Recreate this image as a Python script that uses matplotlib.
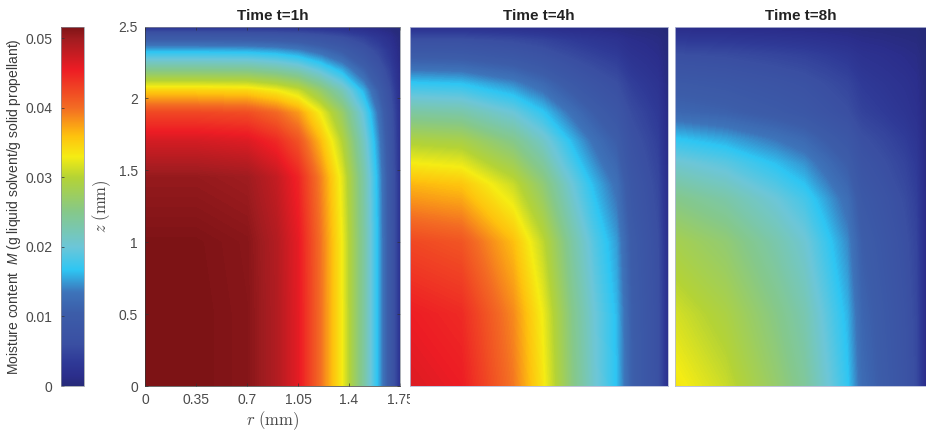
import matplotlib
matplotlib.use('Agg')
import matplotlib.pyplot as plt
import numpy as np
from matplotlib.colors import LinearSegmentedColormap, Normalize
from matplotlib.cm import ScalarMappable
from matplotlib.transforms import Bbox

plt.rcParams['font.family'] = ['Liberation Sans', 'DejaVu Sans']
plt.rcParams['mathtext.fontset'] = 'cm'
plt.rcParams['mathtext.it'] = 'Liberation Sans:italic'

W, H = 926, 434
vmax = 0.0517

titles = ['Time t=1h', 'Time t=4h', 'Time t=8h']
r_ticks = [0, 0.35, 0.7, 1.05, 1.4, 1.75]
r_tick_labels = ['0', '0.35', '0.7', '1.05', '1.4', '1.75']
z_ticks = [0, 0.5, 1, 1.5, 2, 2.5]
z_tick_labels = ['0', '0.5', '1', '1.5', '2', '2.5']
cbar_ticks = [0, 0.01, 0.02, 0.03, 0.04, 0.05]
cbar_tick_labels = ['0', '0.01', '0.02', '0.03', '0.04', '0.05']

# colour stops
cmap_values = [0, 0.0015, 0.0035, 0.006, 0.0105, 0.0135, 0.0167, 0.02, 0.025, 0.03,
               0.033, 0.036, 0.04, 0.0455, 0.05, vmax]
cmap_colors = ['#262a78', '#2b2e8c', '#2f3a97', '#3a4fa2', '#3c5da9', '#3d74ba', '#2ec6f3',
               '#6cc6d8', '#85c88a', '#b4d335', '#f5ec13', '#fec10e', '#f36c23', '#ed1c24',
               '#a01c20', '#7c1315']

r1 = [0, 0.35, 0.7, 0.9, 1.05, 1.2, 1.35, 1.5, 1.6, 1.68, 1.75]
z1 = [0, 0.5, 1, 1.45, 1.7, 1.9, 2.05, 2.2, 2.33, 2.42, 2.5]
m1 = [
    [.0517, .0517, .0512, .0490, .0460, .0400, .0330, .0235, .0160, .0090, .0020],
    [.0517, .0517, .0512, .0490, .0460, .0400, .0330, .0235, .0160, .0090, .0020],
    [.0516, .0516, .0511, .0489, .0459, .0399, .0329, .0235, .0160, .0090, .0020],
    [.0505, .0505, .0500, .0479, .0449, .0391, .0322, .0230, .0156, .0088, .0020],
    [.0470, .0470, .0465, .0446, .0418, .0364, .0300, .0214, .0145, .0082, .0018],
    [.0425, .0425, .0421, .0403, .0378, .0329, .0271, .0193, .0131, .0074, .0017],
    [.0350, .0350, .0347, .0332, .0312, .0271, .0223, .0159, .0108, .0061, .0014],
    [.0245, .0245, .0243, .0232, .0218, .0190, .0156, .0111, .0076, .0043, .0010],
    [.0160, .0160, .0158, .0152, .0142, .0124, .0102, .0073, .0049, .0028, .0006],
    [.0095, .0095, .0094, .0090, .0085, .0074, .0061, .0043, .0029, .0017, .0004],
    [.0020, .0020, .0020, .0019, .0018, .0015, .0013, .0009, .0006, .0003, .0001],
]

r2 = [0, 0.35, 0.7, 0.9, 1.1, 1.25, 1.4, 1.5, 1.6, 1.68, 1.75]
z2 = [0, 0.5, 1, 1.4, 1.7, 1.9, 2.1, 2.25, 2.4, 2.5]
m2 = [
    [.0465, .0455, .0395, .0335, .0255, .0205, .0165, .0110, .0085, .0065, .0015],
    [.0455, .0445, .0386, .0328, .0249, .0201, .0162, .0108, .0083, .0064, .0015],
    [.0425, .0416, .0361, .0306, .0233, .0187, .0151, .0101, .0078, .0060, .0014],
    [.0365, .0357, .0310, .0263, .0200, .0161, .0130, .0087, .0067, .0051, .0012],
    [.0295, .0289, .0250, .0212, .0162, .0130, .0105, .0070, .0054, .0041, .0009],
    [.0235, .0230, .0200, .0169, .0129, .0104, .0083, .0056, .0043, .0033, .0008],
    [.0170, .0166, .0144, .0122, .0093, .0075, .0060, .0040, .0031, .0024, .0005],
    [.0115, .0112, .0098, .0083, .0063, .0051, .0041, .0027, .0021, .0016, .0004],
    [.0065, .0064, .0055, .0047, .0036, .0029, .0023, .0015, .0012, .0009, .0002],
    [.0015, .0015, .0013, .0011, .0008, .0007, .0005, .0004, .0003, .0002, .0000],
]

r3 = [0, 0.35, 0.7, 0.9, 1.05, 1.2, 1.3, 1.45, 1.6, 1.68, 1.75]
z3 = [0, 0.5, 1, 1.3, 1.55, 1.72, 1.9, 2.1, 2.3, 2.5]
m3 = [
    [.0335, .0310, .0268, .0240, .0205, .0170, .0125, .0100, .0075, .0055, .0010],
    [.0315, .0291, .0252, .0226, .0193, .0160, .0117, .0094, .0071, .0052, .0009],
    [.0285, .0264, .0228, .0204, .0174, .0144, .0106, .0085, .0064, .0047, .0009],
    [.0250, .0231, .0200, .0179, .0153, .0127, .0093, .0075, .0056, .0041, .0008],
    [.0205, .0190, .0164, .0147, .0125, .0104, .0076, .0061, .0046, .0034, .0006],
    [.0167, .0154, .0134, .0120, .0102, .0085, .0062, .0050, .0037, .0027, .0005],
    [.0120, .0111, .0096, .0086, .0073, .0061, .0045, .0036, .0027, .0020, .0004],
    [.0095, .0088, .0076, .0068, .0058, .0048, .0035, .0028, .0021, .0016, .0003],
    [.0060, .0056, .0048, .0043, .0037, .0030, .0022, .0018, .0013, .0010, .0002],
    [.0010, .0009, .0008, .0007, .0006, .0005, .0004, .0003, .0002, .0002, .0000],
]


def px_axes(fig, left, right, top, bottom):
    return fig.add_axes([left / W, 1 - bottom / H, (right - left) / W, (bottom - top) / H])


cmap = LinearSegmentedColormap.from_list(
    'moisture', [(v / vmax, c) for v, c in zip(cmap_values, cmap_colors)], N=1024)
norm = Normalize(0, vmax)
levels = np.linspace(0, vmax, 300)

fig = plt.figure(figsize=(W / 100, H / 100), dpi=100)

grey = '#4a4a4a'
frames = [(145, 400), (409.5, 668), (675, 926)]
grids = [(r1, z1, m1), (r2, z2, m2), (r3, z3, m3)]

for i in range(3):
    ax = px_axes(fig, frames[i][0], frames[i][1], 26.5, 386)
    r, z, m = grids[i]
    # contourf works on the values, so the colours between nodes stay on the colormap
    ax.contourf(r, z, np.array(m), levels=levels, cmap=cmap, norm=norm)
    ax.set_xlim(0, 1.75)
    ax.set_ylim(0, 2.5)
    ax.set_title(titles[i], fontsize=11, fontweight='bold', color='#222222', pad=4.5)
    if i == 0:
        ax.set_xticks(r_ticks, r_tick_labels)
        ax.set_yticks(z_ticks, z_tick_labels)
        ax.tick_params(direction='in', top=True, right=True, length=2.2, width=0.5,
                       color='#333333', labelcolor=grey, labelsize=10, pad=5)
        ax.set_xlabel(r'$r\ \mathrm{(mm)}$', fontsize=12, color=grey, labelpad=2,
                      math_fontfamily='cm')
        ax.set_ylabel(r'$z\ \mathrm{(mm)}$', fontsize=12, color=grey, labelpad=4,
                      math_fontfamily='cm')
        for s in ax.spines.values():
            s.set_linewidth(0.5)
            s.set_color('#8a8f9a')
        ax.spines['left'].set_color('#333333')
        ax.spines['bottom'].set_color('#333333')
        # the last tick label runs under the next panel in the original
        for lbl in ax.get_xticklabels():
            lbl.set_clip_box(Bbox([[0, 0], [410, H]]))
            lbl.set_clip_on(True)
    else:
        ax.set_xticks([])
        ax.set_yticks([])
        for s in ax.spines.values():
            s.set_linewidth(0.6)
            s.set_color('#b4bad6')

cax = px_axes(fig, 61, 84, 26.5, 386)
cb = fig.colorbar(ScalarMappable(norm=norm, cmap=cmap), cax=cax, ticklocation='left')
cb.set_ticks(cbar_ticks, labels=cbar_tick_labels)
cb.ax.tick_params(direction='in', length=2.2, width=0.5, color='#333333', labelcolor=grey,
                  labelsize=10, pad=6)
cb.outline.set_linewidth(0.5)
cb.outline.set_edgecolor('#8a8f9a')
cb.set_label(r'Moisture content  $\mathit{M}$ (g liquid solvent/g solid propellant)',
             fontsize=10, color='#3a3a3a', labelpad=2, math_fontfamily='custom')

fig.savefig('out.png', dpi=100)
